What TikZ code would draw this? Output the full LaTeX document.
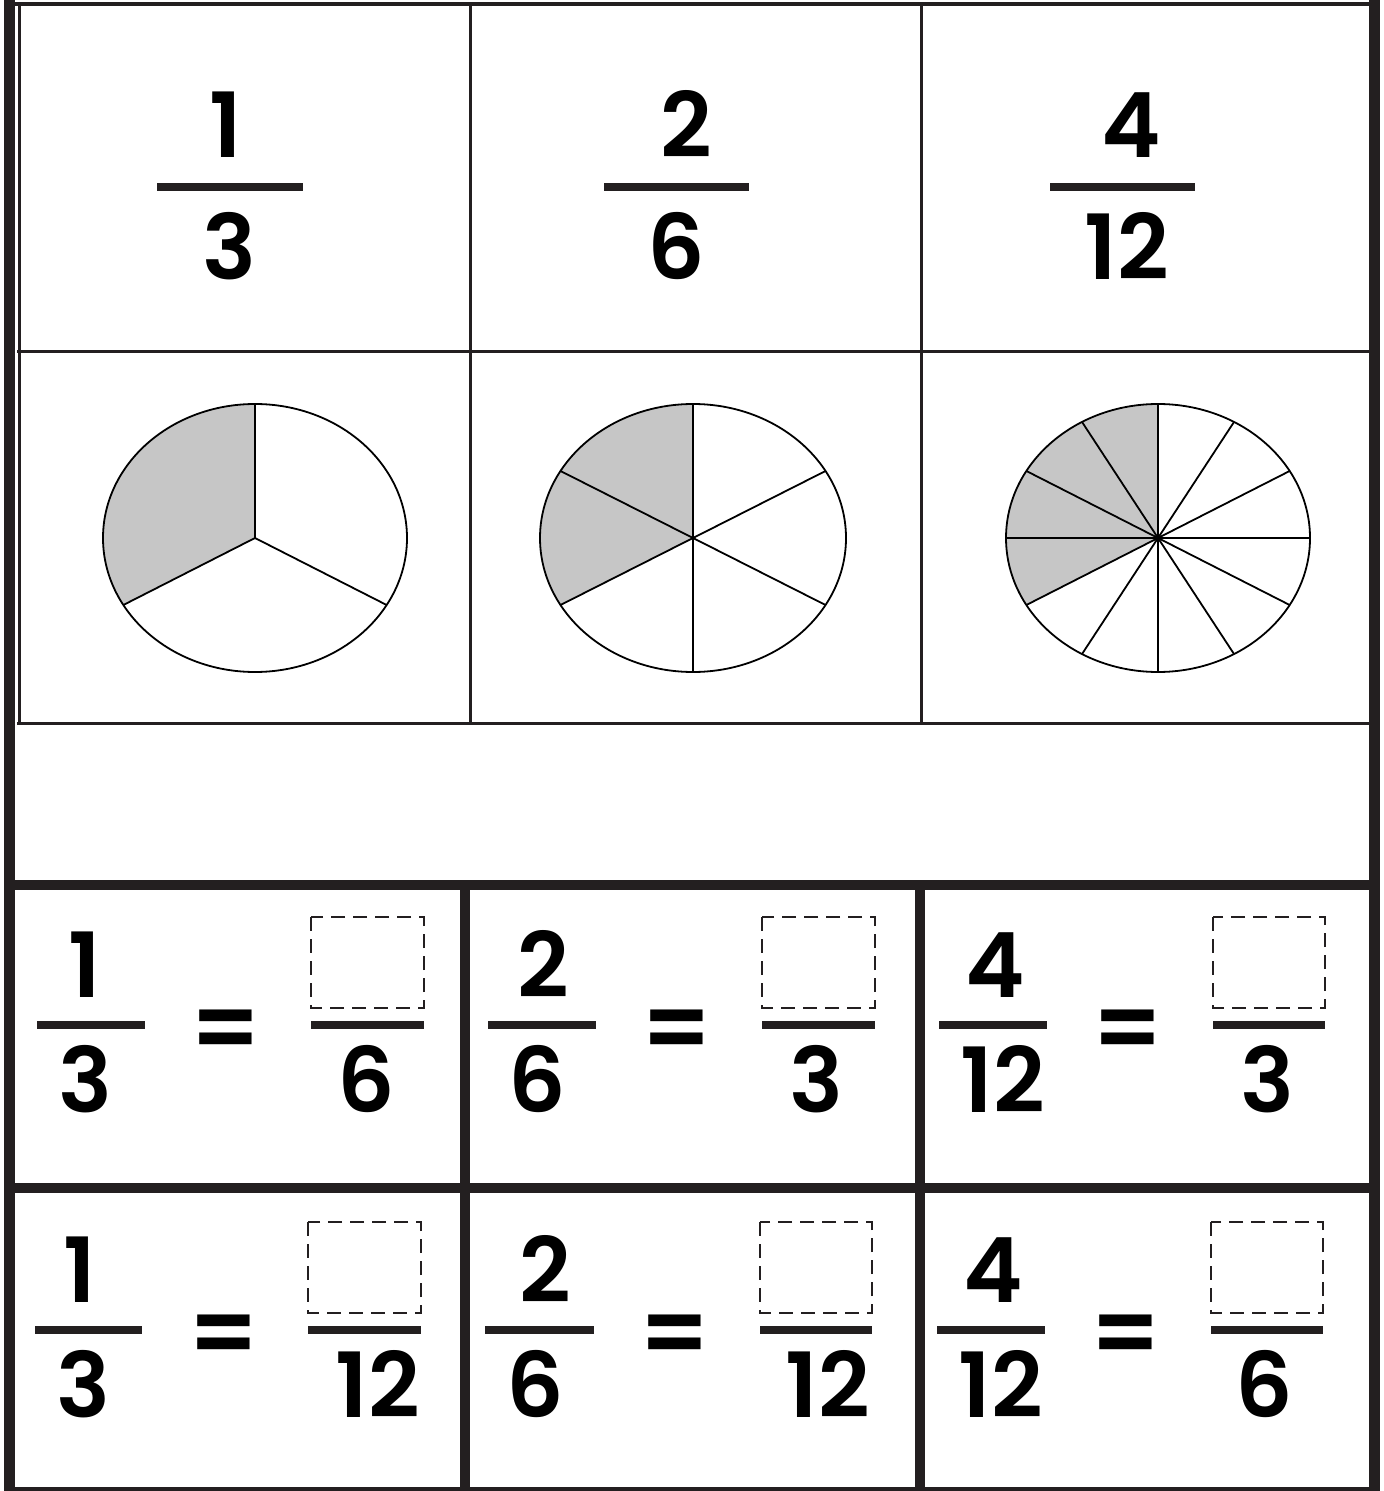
\documentclass[tikz,border=0pt]{standalone}
\usepackage{fontspec}
\newfontfamily\digitfont{Poppins}[UprightFont={* Medium},BoldFont={* SemiBold}]
\definecolor{ink}{HTML}{231F20}
\definecolor{shade}{HTML}{C6C6C6}
\begin{document}
\begin{tikzpicture}[x=0.5pt,y=-0.5pt,
  thinrule/.style={draw=ink,line width=1.5pt},
  thickrule/.style={draw=ink,line width=5pt},
  fracbar/.style={draw=ink,line width=4pt},
  digit/.style={inner sep=0pt,anchor=base,font=\digitfont\bfseries\fontsize{45}{48}\selectfont},
  eqsign/.style={inner sep=0pt,anchor=center,font=\digitfont\bfseries\fontsize{48}{52}\selectfont},
  answerbox/.style={draw=ink,line width=1.1pt,dash pattern=on 7pt off 4pt},
  piefill/.style={fill=shade},
  pieline/.style={draw=black,line width=0.9pt}]
\useasboundingbox (0,0) rectangle (1384,1491);
\fill[white] (0,0) rectangle (1384,1491);

% ---------- upper table ----------
\draw[thinrule] (19,4) -- (19,723);
\draw[thinrule] (17,352) -- (1369,352);
\draw[thinrule] (17,723) -- (1369,723);
\draw[thinrule] (470,4) -- (470,723);
\draw[thinrule] (921,4) -- (921,723);

% top row fractions
\node[digit] (n1) at (226,158) {1};
\draw[fracbar] (157,187) -- (303,187);
\node[digit] (d1) at (229,280) {3};
\node[digit] (n2) at (686,158) {2};
\draw[fracbar] (604,187) -- (749,187);
\node[digit] (d2) at (676,280) {6};
\node[digit] (n3) at (1131,158) {4};
\draw[fracbar] (1050,187) -- (1195,187);
\node[digit] (d3) at (1127,280) {12};

% pies (page angle t -> coordinate angle -t because y is flipped)
\begin{scope}[shift={(255,538)}]
  \fill[piefill] (0,0) -- (-90:152 and 134) arc[start angle=-90,end angle=-210,x radius=152,y radius=134] -- cycle;
  \draw[pieline] (0,0) ellipse[x radius=152,y radius=134];
  \foreach \a in {90,210,330} \draw[pieline] (0,0) -- ({152*cos(\a)},{-134*sin(\a)});
\end{scope}
\begin{scope}[shift={(693,538)}]
  \fill[piefill] (0,0) -- (-90:153 and 134) arc[start angle=-90,end angle=-210,x radius=153,y radius=134] -- cycle;
  \draw[pieline] (0,0) ellipse[x radius=153,y radius=134];
  \foreach \a in {30,90,...,330} \draw[pieline] (0,0) -- ({153*cos(\a)},{-134*sin(\a)});
\end{scope}
\begin{scope}[shift={(1158,538)}]
  \fill[piefill] (0,0) -- (-90:152 and 134) arc[start angle=-90,end angle=-210,x radius=152,y radius=134] -- cycle;
  \draw[pieline] (0,0) ellipse[x radius=152,y radius=134];
  \foreach \a in {0,30,...,330} \draw[pieline] (0,0) -- ({152*cos(\a)},{-134*sin(\a)});
\end{scope}

% ---------- lower grid ----------
\foreach \yo/\nx/\dx/\bl/\br/\ex/\xl/\xr/\rx/\nm/\dn/\rd in {
  0/85/85/37/145/226/311/424/366/1/3/6,
  0/543/537/488/596/677/762/875/816/2/6/3,
  0/995/1003/939/1047/1128/1213/1325/1267/4/12/3,
  305/80/83/35/142/224/308/421/378/1/3/12,
  305/545/535/485/594/675/760/872/828/2/6/12,
  305/993/1001/937/1045/1126/1211/1323/1264/4/12/6}{
  \begin{scope}[yshift={-0.5*\yo pt}]
    \node[digit] at (\nx,997) {\nm};
    \draw[fracbar] (\bl,1025) -- (\br,1025);
    \node[digit] at (\dx,1112) {\dn};
    \node[eqsign] at (\ex,1036) {=};
    \draw[answerbox] (\xl,917) rectangle (\xr,1008);
    \draw[fracbar] (\xl,1025) -- (\xr,1025);
    \node[digit] at (\rx,1112) {\rd};
  \end{scope}
}

% thick frame
\draw[thickrule] (4,884.5) -- (1380,884.5);
\draw[thickrule] (4,1188) -- (1380,1188);
\draw[thickrule] (465,884) -- (465,1491);
\draw[thickrule] (920,884) -- (920,1491);
\draw[draw=ink,line width=2pt] (4,4) -- (1380,4);
\draw[draw=ink,line width=2pt] (4,1489) -- (1380,1489);
\draw[draw=ink,line width=5.5pt] (9.5,0) -- (9.5,1491);
\draw[draw=ink,line width=5.5pt] (1374.5,0) -- (1374.5,1491);
\end{tikzpicture}
\end{document}
